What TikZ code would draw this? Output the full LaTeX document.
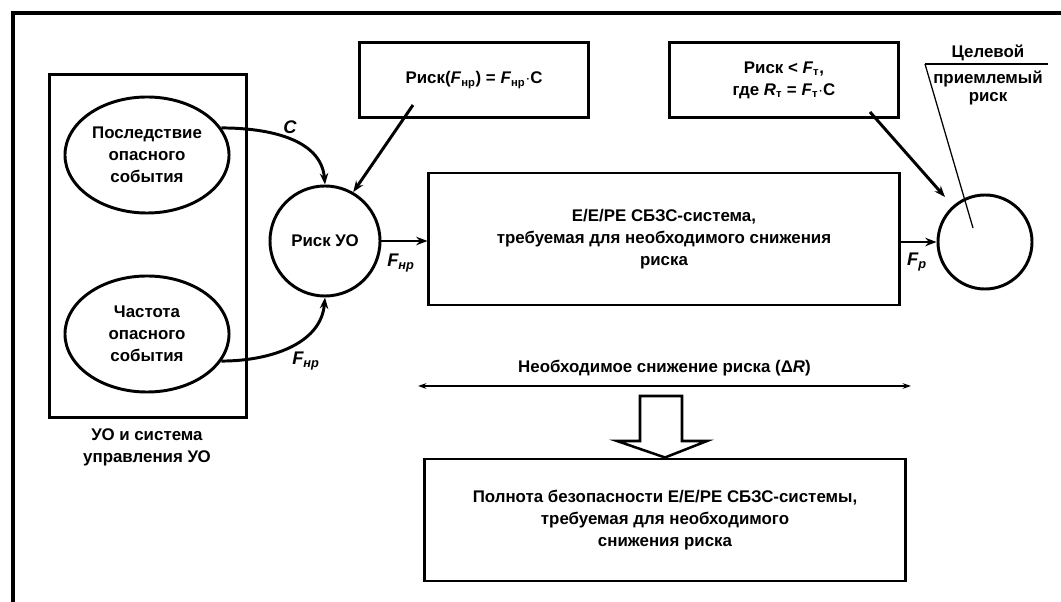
\documentclass[tikz,border=0pt]{standalone}
\usepackage{fontspec}
\setmainfont{Liberation Sans}
\usetikzlibrary{arrows.meta, shapes.geometric, positioning}

\begin{document}
\begin{tikzpicture}[x=0.025cm, y=-0.025cm,
    every node/.style={font=\fontsize{12}{15.5}\selectfont\bfseries, align=center},
    box/.style={draw, line width=2.1pt, inner sep=0pt},
    oval/.style={draw, ellipse, line width=2.1pt, inner sep=0pt,
        minimum width=4.1cm, minimum height=2.9cm},
    ring/.style={draw, circle, line width=2.1pt, inner sep=0pt},
    arr/.style={line width=2.1pt, -{Stealth[length=8pt,width=6pt]}},
    thinline/.style={line width=0.9pt},
    varlbl/.style={font=\fontsize{13}{14}\selectfont\bfseries\itshape}]
    \useasboundingbox (0,0) rectangle (1061,602);
    % Outer frame (no right and bottom side)
    \draw[line width=2.8pt] (13,610) -- (13,13) -- (1061,13);

    % Plant and its control system
    \node[box, minimum width=4.9cm, minimum height=8.55cm] (plant) at (148,246) {};
    \node[oval] (conseq) at (147,155) {Последствие\\опасного\\события};
    \node[oval] (freq) at (147,334) {Частота\\опасного\\события};
    \node (plantlbl) at (147,447) {УО и система\\управления УО};

    % Risk of the plant
    \node[ring, minimum size=2.75cm] (risk) at (325,241) {Риск УО};
    \draw[arr] (conseq.20) to[out=0, in=95] (risk.north);
    \draw[arr] (freq.-20) to[out=0, in=-95] (risk.south);
    \node[varlbl] (clbl) at (290,127) {C};
    \node[varlbl] (fnrlbl) at (306,361) {F\textsubscript{нр}};

    % Formula boxes
    \node[box, minimum width=5.7cm, minimum height=1.875cm] (formula) at (474,80)
        {Риск(\textit{F}\textsubscript{нр}) = \textit{F}\textsubscript{нр}$\cdot$C};
    \node[box, minimum width=5.7cm, minimum height=1.875cm] (target) at (784,80)
        {Риск < \textit{F}\textsubscript{т},\\где \textit{R}\textsubscript{т} = \textit{F}\textsubscript{т}$\cdot$C};
    \coordinate (fa) at (413,105);
    \coordinate (ta) at (870,112);
    \draw[arr] (fa) -- (risk.60);
    \draw[arr] (ta) -- (945,197);

    % E/E/PE system
    \node[box, minimum width=11.75cm, minimum height=3.3cm] (sys) at (664,239)
        {E/E/PE СБЗС-система,\\требуемая для необходимого снижения\\риска};
    \node[ring, minimum size=2.35cm] (goal) at (985,242) {};
    \draw[arr] (risk.east) -- (risk.east -| sys.west);
    \draw[arr] (goal.west -| sys.east) -- (goal.west);
    \node[varlbl] (fnr2lbl) at (401,263) {F\textsubscript{нр}};
    \node[varlbl] (fplbl) at (917,262) {F\textsubscript{р}};

    % Tolerable risk label
    \node (goallbl) at (988,75) {Целевой\\[3pt]приемлемый\\[-3pt]риск};
    \coordinate (gl) at (925,64);
    \draw[thinline] (gl) -- (1048,64);
    \draw[thinline] (gl) -- (973,228);

    % Necessary risk reduction
    \coordinate (dl) at (418,386);
    \coordinate (dr) at (911,386);
    \draw[line width=1.5pt, {Stealth[length=6pt,width=4pt]}-{Stealth[length=6pt,width=4pt]}] (dl) -- (dr)
        node[midway, above=3pt] {Необходимое снижение риска (Δ\textit{R})};

    % Safety integrity
    \node[box, minimum width=12cm, minimum height=3.05cm] (sil) at (665,520)
        {Полнота безопасности E/E/PE СБЗС-системы,\\требуемая для необходимого\\снижения риска};
    \draw[line width=1.8pt, fill=white] (640,396) -- (682,396) -- (682,441) -- (707,441)
        -- (sil.north) -- (617,441) -- (640,441) -- cycle;
\end{tikzpicture}
\end{document}
